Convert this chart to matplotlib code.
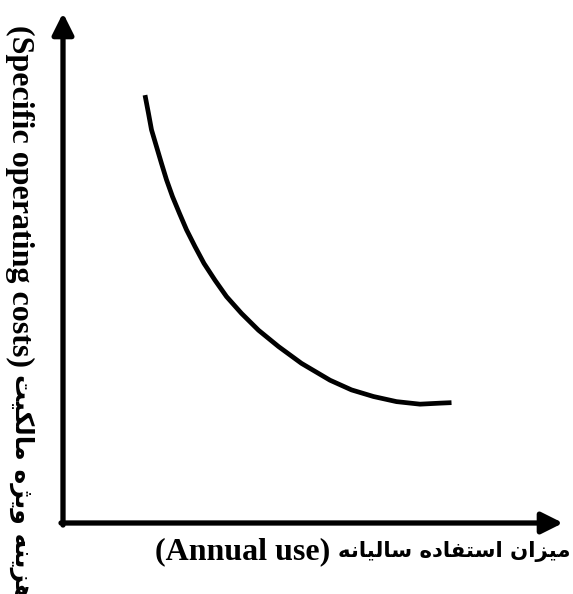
import numpy as np
import matplotlib.pyplot as plt

# curve (abstract units, origin at the axes corner)
usage = [1.64, 1.71, 1.77, 1.87, 1.97, 2.07, 2.19, 2.33, 2.47, 2.64, 2.82, 3.04,
         3.27, 3.57, 3.91, 4.31, 4.77, 5.34, 5.77, 6.21, 6.67, 7.14, 7.54, 7.77]
cost = [8.39, 8.03, 7.71, 7.38, 7.05, 6.73, 6.40, 6.07, 5.75, 5.42, 5.09, 4.76,
        4.44, 4.11, 3.78, 3.46, 3.13, 2.80, 2.61, 2.48, 2.38, 2.33, 2.35, 2.36]

xlabel_en = "(Annual use)"
xlabel_fa = "میزان استفاده سالیانه"
ylabel_en = "(Specific operating costs)"
ylabel_fa = "هزینه ویژه مالکیت"

# presentation forms: isolated, final, initial, medial (None = right-joining only)
FORMS = {
    '\u0627': ('\uFE8D', '\uFE8E', None, None),
    '\u062F': ('\uFEA9', '\uFEAA', None, None),
    '\u0632': ('\uFEAF', '\uFEB0', None, None),
    '\u0698': ('\uFB8A', '\uFB8B', None, None),
    '\u0648': ('\uFEED', '\uFEEE', None, None),
    '\u062A': ('\uFE95', '\uFE96', '\uFE97', '\uFE98'),
    '\u0633': ('\uFEB1', '\uFEB2', '\uFEB3', '\uFEB4'),
    '\u0641': ('\uFED1', '\uFED2', '\uFED3', '\uFED4'),
    '\u06A9': ('\uFB8E', '\uFB8F', '\uFB90', '\uFB91'),
    '\u0644': ('\uFEDD', '\uFEDE', '\uFEDF', '\uFEE0'),
    '\u0645': ('\uFEE1', '\uFEE2', '\uFEE3', '\uFEE4'),
    '\u0646': ('\uFEE5', '\uFEE6', '\uFEE7', '\uFEE8'),
    '\u0647': ('\uFEE9', '\uFEEA', '\uFEEB', '\uFEEC'),
    '\u06CC': ('\uFBFC', '\uFBFD', '\uFBFE', '\uFBFF'),
}


def shape(text):
    """Letter joining + right-to-left order, since matplotlib does neither"""
    out = []
    for i, ch in enumerate(text):
        if ch not in FORMS:
            out.append(ch)
            continue
        prev = text[i - 1] if i > 0 else ''
        nxt = text[i + 1] if i + 1 < len(text) else ''
        join_prev = prev in FORMS and FORMS[prev][2] is not None
        join_next = FORMS[ch][2] is not None and nxt in FORMS
        iso, fin, ini, med = FORMS[ch]
        if join_prev and join_next:
            out.append(med)
        elif join_prev:
            out.append(fin)
        elif join_next:
            out.append(ini)
        else:
            out.append(iso)
    return ''.join(out)[::-1]


W, H = 573, 594
fig = plt.figure(figsize=(W / 100, H / 100), dpi=100)
fig.patch.set_facecolor('white')
ax = fig.add_axes([63 / W, (H - 523) / H, 500 / W, 510 / H])
ax.set_xlim(0, 10)
ax.set_ylim(0, 10)
ax.axis('off')

arrow = dict(arrowstyle='-|>', lw=3.8, color='black', mutation_scale=32,
             shrinkA=0, shrinkB=0)
ax.annotate('', xy=(10, 0), xytext=(-0.04, 0), arrowprops=arrow, annotation_clip=False)
ax.annotate('', xy=(0, 10), xytext=(0, -0.04), arrowprops=arrow, annotation_clip=False)

ax.plot(usage, cost, color='black', lw=3.4, solid_capstyle='butt',
        solid_joinstyle='round', clip_on=False)

en = dict(family='Liberation Serif', weight='bold', size=23, color='black')

fig.text(330 / W, 1 - 552 / H, xlabel_en, ha='right', va='center', **en)
fig.text(570 / W, 1 - 552 / H, shape(xlabel_fa), ha='right', va='center',
         family='DejaVu Sans', weight='bold', size=15.3, color='black')

fig.text(20 / W, 1 - 25 / H, ylabel_en, rotation=-90, ha='center', va='top', **en)
fig.text(22 / W, 1 - 374 / H, shape(ylabel_fa), rotation=-90, ha='center', va='top',
         family='DejaVu Sans', weight='bold', size=18, color='black')

fig.savefig('out.png', dpi=100, facecolor='white')
